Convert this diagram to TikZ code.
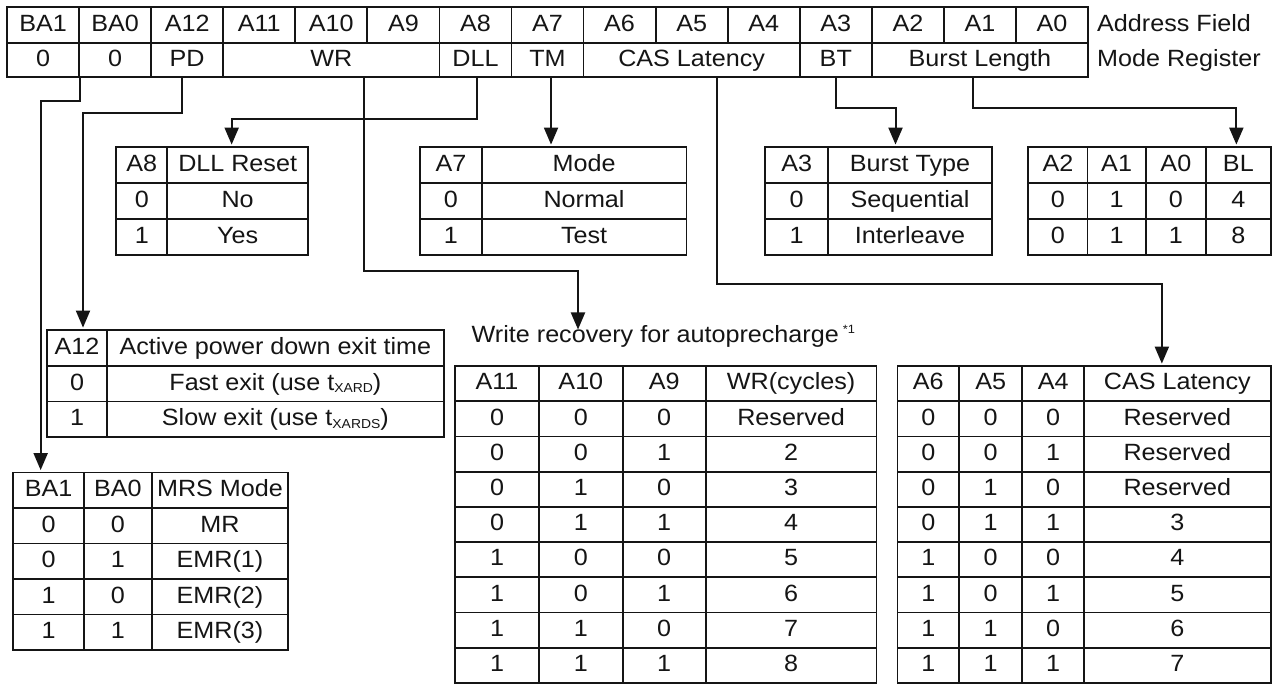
\documentclass[tikz,border=0pt]{standalone}
\usepackage{fontspec}
\setmainfont{Liberation Sans}[FakeStretch=1.07]
\usetikzlibrary{arrows.meta}

\definecolor{ink}{HTML}{151515}
\newcommand\cellfont{\fontsize{23.5}{28}\selectfont}
\newcommand\subtxt[1]{\raisebox{-2.5pt}{\fontsize{13}{13}\selectfont #1}}

\tikzset{
  lbl/.style={font=\cellfont, text=ink, inner sep=0pt, text height=17pt, text depth=4.5pt},
  cellbox/.style={lbl, draw=ink, line width=1.8pt, anchor=center},
  conn/.style={draw=ink, line width=2pt, -{Triangle[length=17pt,width=14pt]}, shorten >=1.5pt},
}

% one table cell: name, x1, y1, x2, y2, text
\newcommand\cellat[6]{%
  \node[cellbox, minimum width={(#4)-(#2)}, minimum height={(#5)-(#3)}]
    (#1) at ({((#2)+(#4))/2},{((#3)+(#5))/2}) {#6};}

\begin{document}
\begin{tikzpicture}[x=1pt, y=-1pt]
\useasboundingbox[fill=white] (0,0) rectangle (1274,684);

% ---------- register layout ----------
\foreach \lab [count=\i from 0] in {BA1,BA0,A12,A11,A10,A9,A8,A7,A6,A5,A4,A3,A2,A1,A0}
  {\cellat{f-\lab}{7+72.07*\i}{7}{7+72.07*(\i+1)}{43}{\lab}}
\cellat{m-ba1}{7}{43}{79.07}{77}{0}
\cellat{m-ba0}{79.07}{43}{151.14}{77}{0}
\cellat{m-pd}{151.14}{43}{223.21}{77}{PD}
\cellat{m-wr}{223.21}{43}{439.42}{77}{WR}
\cellat{m-dll}{439.42}{43}{511.49}{77}{DLL}
\cellat{m-tm}{511.49}{43}{583.56}{77}{TM}
\cellat{m-cas}{583.56}{43}{799.77}{77}{CAS Latency}
\cellat{m-bt}{799.77}{43}{871.84}{77}{BT}
\cellat{m-bl}{871.84}{43}{1088}{77}{Burst Length}
\node[lbl, anchor=west] (addr) at (1097,25.5) {Address Field};
\node[lbl, anchor=west] (mreg) at (1097,60.5) {Mode Register};

% ---------- DLL reset ----------
\cellat{d-h1}{116.3}{147}{167.3}{183}{A8}
\cellat{d-h2}{167.3}{147}{308}{183}{DLL Reset}
\cellat{d-a1}{116.3}{183}{167.3}{219}{0}
\cellat{d-b1}{167.3}{183}{308}{219}{No}
\cellat{d-a2}{116.3}{219}{167.3}{255}{1}
\cellat{d-b2}{167.3}{219}{308}{255}{Yes}

% ---------- test mode ----------
\cellat{o-h1}{420.2}{147}{481.6}{183}{A7}
\cellat{o-h2}{481.6}{147}{686.5}{183}{Mode}
\cellat{o-a1}{420.2}{183}{481.6}{219}{0}
\cellat{o-b1}{481.6}{183}{686.5}{219}{Normal}
\cellat{o-a2}{420.2}{219}{481.6}{255}{1}
\cellat{o-b2}{481.6}{219}{686.5}{255}{Test}

% ---------- burst type ----------
\cellat{b-h1}{765}{147}{828.3}{183}{A3}
\cellat{b-h2}{828.3}{147}{991.7}{183}{Burst Type}
\cellat{b-a1}{765}{183}{828.3}{219}{0}
\cellat{b-b1}{828.3}{183}{991.7}{219}{Sequential}
\cellat{b-a2}{765}{219}{828.3}{255}{1}
\cellat{b-b2}{828.3}{219}{991.7}{255}{Interleave}

% ---------- burst length ----------
\cellat{l-h1}{1028.3}{147}{1087.5}{183}{A2}
\cellat{l-h2}{1087.5}{147}{1145.7}{183}{A1}
\cellat{l-h3}{1145.7}{147}{1206}{183}{A0}
\cellat{l-h4}{1206}{147}{1270.7}{183}{BL}
\foreach \p/\q/\r/\v [count=\k] in {0/1/0/4, 0/1/1/8} {
  \pgfmathsetmacro\ya{147+36*\k}
  \pgfmathsetmacro\yb{\ya+36}
  \cellat{l-a\k}{1028.3}{\ya}{1087.5}{\yb}{\p}
  \cellat{l-b\k}{1087.5}{\ya}{1145.7}{\yb}{\q}
  \cellat{l-c\k}{1145.7}{\ya}{1206}{\yb}{\r}
  \cellat{l-d\k}{1206}{\ya}{1270.7}{\yb}{\v}
}

% ---------- power down exit ----------
\cellat{p-h1}{47.3}{330}{106.7}{366}{A12}
\cellat{p-h2}{106.7}{330}{444}{366}{Active power down exit time}
\cellat{p-a1}{47.3}{366}{106.7}{401.5}{0}
\cellat{p-b1}{106.7}{366}{444}{401.5}{Fast exit (use t\subtxt{XARD})}
\cellat{p-a2}{47.3}{401.5}{106.7}{437}{1}
\cellat{p-b2}{106.7}{401.5}{444}{437}{Slow exit (use t\subtxt{XARDS})}

% ---------- MRS mode ----------
\cellat{r-h1}{13.3}{472.5}{84}{508}{BA1}
\cellat{r-h2}{84}{472.5}{151.7}{508}{BA0}
\cellat{r-h3}{151.7}{472.5}{288.3}{508}{MRS Mode}
\foreach \p/\q/\v [count=\k] in {0/0/MR, 0/1/EMR(1), 1/0/EMR(2), 1/1/EMR(3)} {
  \pgfmathsetmacro\ya{472.5+35.5*\k}
  \pgfmathsetmacro\yb{\ya+35.5}
  \cellat{r-a\k}{13.3}{\ya}{84}{\yb}{\p}
  \cellat{r-b\k}{84}{\ya}{151.7}{\yb}{\q}
  \cellat{r-c\k}{151.7}{\ya}{288.3}{\yb}{\v}
}

% ---------- write recovery ----------
\node[lbl, anchor=west] (w-title) at (471.5,336)
  {Write recovery for autoprecharge\hspace{4pt}\raisebox{9pt}{\fontsize{12}{12}\selectfont *1}};
\coordinate (w-tip) at (578,331);
\cellat{w-h1}{455}{366}{539}{401.2}{A11}
\cellat{w-h2}{539}{366}{622.7}{401.2}{A10}
\cellat{w-h3}{622.7}{366}{705.7}{401.2}{A9}
\cellat{w-h4}{705.7}{366}{876.5}{401.2}{WR(cycles)}
\foreach \p/\q/\r/\v [count=\k] in
  {0/0/0/Reserved, 0/0/1/2, 0/1/0/3, 0/1/1/4, 1/0/0/5, 1/0/1/6, 1/1/0/7, 1/1/1/8} {
  \pgfmathsetmacro\ya{366+35.2*\k}
  \pgfmathsetmacro\yb{\ya+35.2}
  \cellat{w-a\k}{455}{\ya}{539}{\yb}{\p}
  \cellat{w-b\k}{539}{\ya}{622.7}{\yb}{\q}
  \cellat{w-c\k}{622.7}{\ya}{705.7}{\yb}{\r}
  \cellat{w-d\k}{705.7}{\ya}{876.5}{\yb}{\v}
}

% ---------- CAS latency ----------
\cellat{c-h1}{897.5}{366}{959}{401.2}{A6}
\cellat{c-h2}{959}{366}{1022.3}{401.2}{A5}
\cellat{c-h3}{1022.3}{366}{1084}{401.2}{A4}
\cellat{c-h4}{1084}{366}{1270.7}{401.2}{CAS Latency}
\foreach \p/\q/\r/\v [count=\k] in
  {0/0/0/Reserved, 0/0/1/Reserved, 0/1/0/Reserved, 0/1/1/3, 1/0/0/4, 1/0/1/5, 1/1/0/6, 1/1/1/7} {
  \pgfmathsetmacro\ya{366+35.2*\k}
  \pgfmathsetmacro\yb{\ya+35.2}
  \cellat{c-a\k}{897.5}{\ya}{959}{\yb}{\p}
  \cellat{c-b\k}{959}{\ya}{1022.3}{\yb}{\q}
  \cellat{c-c\k}{1022.3}{\ya}{1084}{\yb}{\r}
  \cellat{c-d\k}{1084}{\ya}{1270.7}{\yb}{\v}
}

% ---------- field connectors ----------
\draw[conn] (m-ba1.south east) -- ++(0,23) -| ([xshift=-8pt]r-h1.north);
\draw[conn] ([xshift=-5pt]m-pd.south) -- ++(0,35.3) -| ([xshift=6pt]p-h1.north);
\draw[conn] ([xshift=33pt]m-wr.south) -- ++(0,193) -| (w-tip);
\draw[conn] ([xshift=2pt]m-dll.south) -- ++(0,41.3) -| ([xshift=-6pt]d-h2.north);
\draw[conn] ([xshift=3.5pt]m-tm.south) -- ([xshift=3.5pt]m-tm.south |- o-h2.north);
\draw[conn] ([xshift=25pt]m-cas.south) -- ++(0,206.3) -| ([xshift=-15.5pt]c-h4.north);
\draw[conn] (m-bt.south) -- ++(0,29.7) -| ([xshift=-14.5pt]b-h2.north);
\draw[conn] ([xshift=-7pt]m-bl.south) -- ++(0,29.7) -| ([xshift=-2pt]l-h4.north);
\end{tikzpicture}
\end{document}
